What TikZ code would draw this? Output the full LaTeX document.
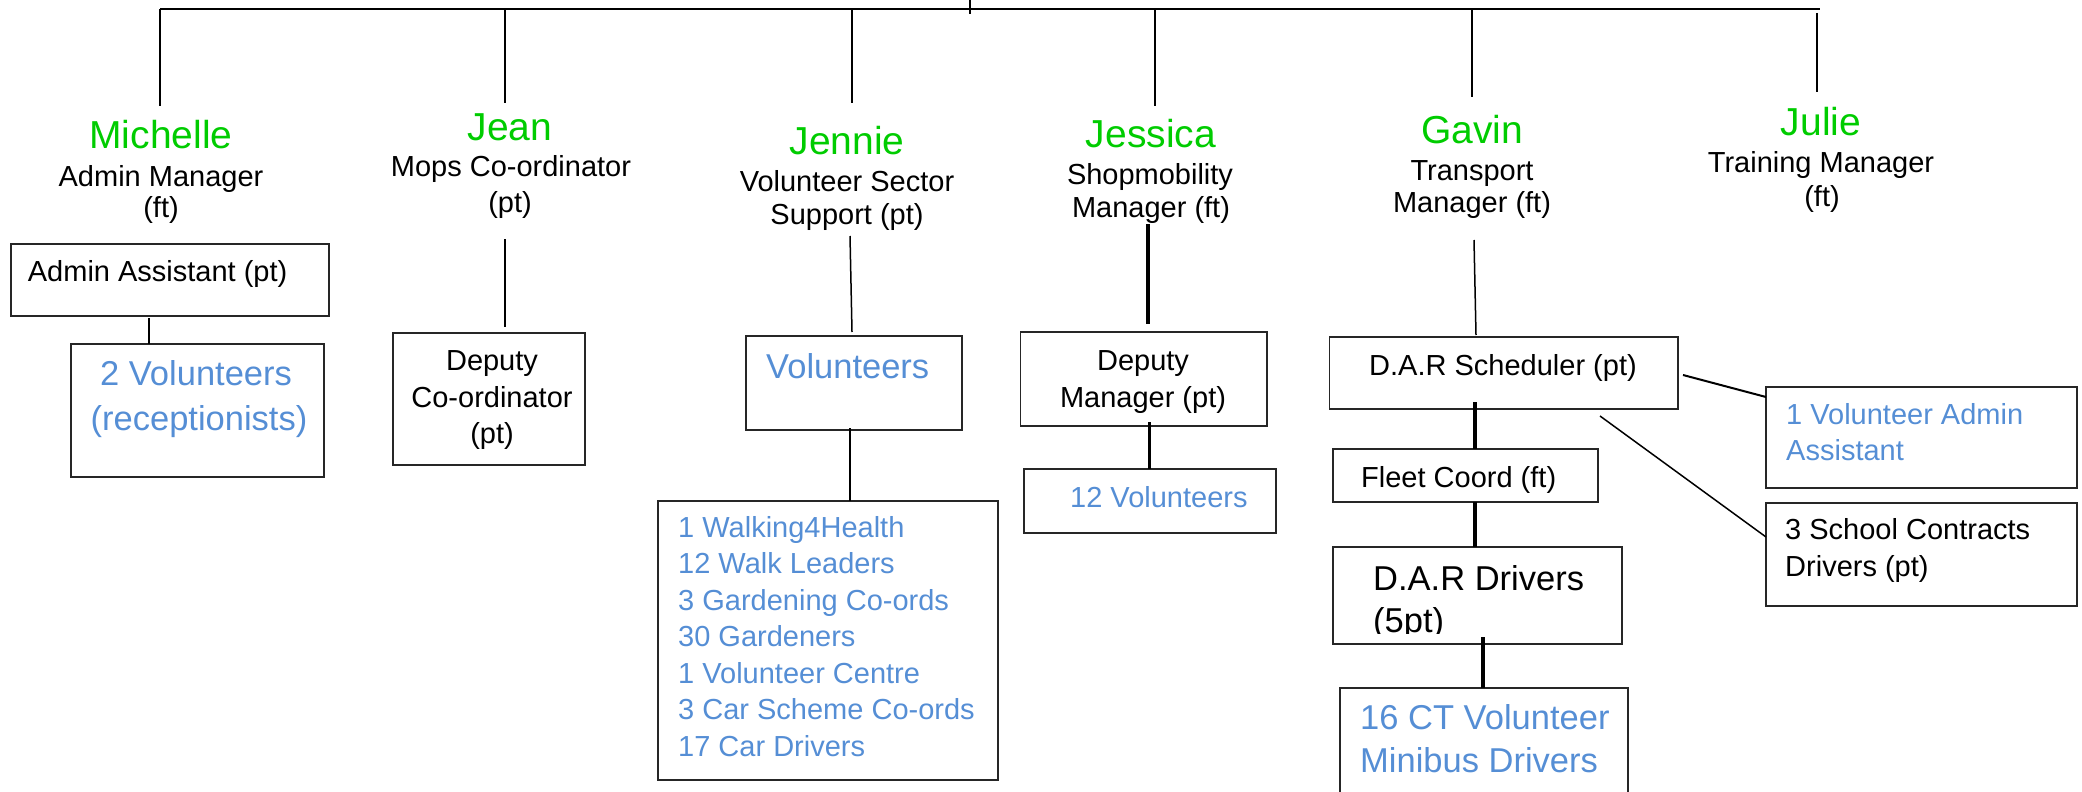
\documentclass[tikz,border=0pt]{standalone}
\usepackage{fontspec}
\setmainfont{Liberation Sans}
\definecolor{nmgreen}{RGB}{0,204,0}
\definecolor{volblue}{RGB}{85,142,213}
\begin{document}
\begin{tikzpicture}[x=1pt,y=-1pt,
  box/.style={draw=black!85, line width=1.5pt, inner sep=0pt, outer sep=0pt, anchor=north west, rectangle},
  nm/.style={anchor=base, inner sep=0pt, text=nmgreen, font=\fontsize{39}{45}\selectfont},
  sub/.style={anchor=base, inner sep=0pt, font=\fontsize{29}{35}\selectfont},
  subl/.style={sub, anchor=base west},
  big/.style={anchor=base, inner sep=0pt, font=\fontsize{34.5}{40}\selectfont},
  bigl/.style={big, anchor=base west},
  volc/.style={text=volblue},
  conn/.style={line width=1.5pt},
  tconn/.style={line width=3.2pt},
  topline/.style={line width=2pt}]
\useasboundingbox (0,0) rectangle (2082,792);

% ---------- heads ----------
\node[nm]  (michN)  at (161,148) {Michelle};
\node[sub] (michT1) at (161,186) {Admin Manager};
\node[sub] (michT2) at (161,217) {(ft)};
\node[nm]  (jeanN)  at (510,140) {Jean};
\node[sub] (jeanT1) at (511,176) {Mops Co-ordinator};
\node[sub] (jeanT2) at (510,212) {(pt)};
\node[nm]  (jennN)  at (847,154) {Jennie};
\node[sub] (jennT1) at (847,191) {Volunteer Sector};
\node[sub] (jennT2) at (847,224) {Support (pt)};
\node[nm]  (jessN)  at (1151,147) {Jessica};
\node[sub] (jessT1) at (1150,184) {Shopmobility};
\node[sub] (jessT2) at (1151,217) {Manager (ft)};
\node[nm]  (gavN)   at (1472,143) {Gavin};
\node[sub] (gavT1)  at (1472,180) {Transport};
\node[sub] (gavT2)  at (1472,212) {Manager (ft)};
\node[nm]  (julN)   at (1821,135) {Julie};
\node[sub] (julT1)  at (1821,172) {Training Manager};
\node[sub] (julT2)  at (1822,206) {(ft)};

% ---------- boxes ----------
\node[box, minimum width=318pt, minimum height=72pt]  (aa)  at (11,244) {};
\node[box, minimum width=253pt, minimum height=133pt] (v2)  at (71,344) {};
\node[box, minimum width=192pt, minimum height=132pt] (dc)  at (393,333) {};
\node[box, minimum width=216pt, minimum height=94pt]  (vol) at (746,336) {};
\node[box, minimum width=340pt, minimum height=279pt] (lst) at (658,501) {};
\node[box, minimum width=246.5pt, minimum height=94pt] (dm) at (1020.5,332) {};
\node[box, minimum width=252pt, minimum height=64pt]  (v12) at (1024,469) {};
\node[box, minimum width=348.5pt, minimum height=72pt] (ds) at (1329.5,337) {};
\node[box, minimum width=265pt, minimum height=53pt]  (fc)  at (1333,449) {};
\node[box, minimum width=289pt, minimum height=97pt]  (dd)  at (1333,547) {};
\node[box, minimum width=288pt, minimum height=130pt] (ct)  at (1340,688) {};
\node[box, minimum width=311pt, minimum height=101pt] (va)  at (1766,387) {};
\node[box, minimum width=311pt, minimum height=103pt] (sc)  at (1766,503) {};

% ---------- box texts ----------
\node[subl] (aaT) at (27.7,281) {Admin Assistant (pt)};
\node[big, volc] (v2T1) at (196,385) {2 Volunteers};
\node[big, volc] (v2T2) at (199,430) {(receptionists)};
\node[sub] (dcT1) at (492,370) {Deputy};
\node[sub] (dcT2) at (492,407) {Co-ordinator};
\node[sub] (dcT3) at (492,443) {(pt)};
\node[bigl, volc] (volT) at (766,378) {Volunteers};
\node[subl, volc] (l1) at (678,537)   {1 Walking4Health};
\node[subl, volc] (l2) at (678,573.5) {12 Walk Leaders};
\node[subl, volc] (l3) at (678,610)   {3 Gardening Co-ords};
\node[subl, volc] (l4) at (678,646.5) {30 Gardeners};
\node[subl, volc] (l5) at (678,683)   {1 Volunteer Centre};
\node[subl, volc] (l6) at (678,719.5) {3 Car Scheme Co-ords};
\node[subl, volc] (l7) at (678,756)   {17 Car Drivers};
\node[sub] (dmT1) at (1143,370) {Deputy};
\node[sub] (dmT2) at (1143,407) {Manager (pt)};
\node[subl, volc] (v12T) at (1070,507) {12 Volunteers};
\node[sub] (dsT) at (1503,375) {D.A.R Scheduler (pt)};
\node[subl] (fcT) at (1361,487) {Fleet Coord (ft)};
\node[bigl] (ddT1) at (1373,590) {D.A.R Drivers};
\begin{scope}
  \clip (1334,548) rectangle (1621,633);
  \node[bigl] (ddT2) at (1373,632) {(5pt)};
\end{scope}
\node[bigl, volc] (ctT1) at (1360,729) {16 CT Volunteer};
\node[bigl, volc] (ctT2) at (1360,772) {Minibus Drivers};
\node[subl, volc] (vaT1) at (1786,424) {1 Volunteer Admin};
\node[subl, volc] (vaT2) at (1786,460) {Assistant};
\node[subl] (scT1) at (1785,539) {3 School Contracts};
\node[subl] (scT2) at (1785,576) {Drivers (pt)};

% ---------- connector end points ----------
\coordinate (tl) at (160,9);
\coordinate (tr) at (1820,9);
\coordinate (tick0) at (970,0);
\coordinate (tick1) at (970,14);
\coordinate (dMich) at (160,106);
\coordinate (tJean) at (505,9);   \coordinate (dJean) at (505,103);
\coordinate (tJenn) at (852,9);   \coordinate (dJenn) at (852,103);
\coordinate (tJess) at (1155,9);  \coordinate (dJess) at (1155,106);
\coordinate (tGav)  at (1472,9);  \coordinate (dGav)  at (1472,97);
\coordinate (tJul)  at (1817,13); \coordinate (dJul)  at (1817,92);
\coordinate (aaB) at (149,318);
\coordinate (jeanL) at (505,239); \coordinate (dcTop) at (505,327);
\coordinate (jennL) at (850,236); \coordinate (volTop) at (852,332);
\coordinate (volB) at (850,428);
\coordinate (jessL) at (1148,224); \coordinate (dmTop) at (1148,324);
\coordinate (dmB) at (1149.5,422);
\coordinate (gavL) at (1474,240); \coordinate (dsTop) at (1476,335);
\coordinate (dsB) at (1475,402);
\coordinate (ddB) at (1483,637);
\coordinate (dsR) at (1683,375);
\coordinate (dsBR) at (1600,416);

% ---------- connectors ----------
\draw[topline] (tl) -- (tr);
\draw[conn] (tick0) -- (tick1);
\draw[conn] (tl) -- (dMich);
\draw[conn] (tJean) -- (dJean);
\draw[conn] (tJenn) -- (dJenn);
\draw[conn] (tJess) -- (dJess);
\draw[conn] (tGav) -- (dGav);
\draw[conn] (tJul) -- (dJul);
\draw[conn] (aaB) -- (aaB |- v2.north);
\draw[conn] (jeanL) -- (dcTop);
\draw[conn] (jennL) -- (volTop);
\draw[conn] (volB) -- (volB |- lst.north);
\draw[tconn] (jessL) -- (dmTop);
\draw[tconn] (dmB) -- (dmB |- v12.north);
\draw[conn] (gavL) -- (dsTop);
\draw[tconn] (dsB) -- (dsB |- fc.north);
\draw[tconn] (dsB |- fc.south) -- (dsB |- dd.north);
\draw[tconn] (ddB) -- (ddB |- ct.north);
\draw[line width=2pt] (dsR) -- (va.north west |- 0,397);
\draw[conn] (dsBR) -- (sc.north west |- 0,537);
\end{tikzpicture}
\end{document}
